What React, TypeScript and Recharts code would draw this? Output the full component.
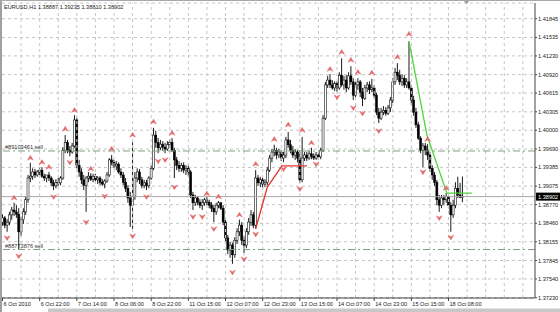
import {
  Bar,
  CartesianGrid,
  ComposedChart,
  Line,
  ReferenceLine,
  Scatter,
  XAxis,
  YAxis,
} from 'recharts';

const FONT = '"Liberation Sans", Arial, sans-serif';

// EURUSD H1, one entry per bar
const opens = [
  1.3848, 1.3855, 1.3843, 1.3848, 1.3860, 1.3868, 1.3865, 1.3861, 1.3832, 1.3852,
  1.3865, 1.3885, 1.3921, 1.3924, 1.3931, 1.3926, 1.3931, 1.3934, 1.3924, 1.3921,
  1.3926, 1.3921, 1.3913, 1.3908, 1.3914, 1.3913, 1.3921, 1.3967, 1.3980, 1.3967,
  1.3964, 1.3974, 1.4017, 1.3942, 1.3931, 1.3918, 1.3909, 1.3921, 1.3924, 1.3919,
  1.3924, 1.3918, 1.3921, 1.3914, 1.3911, 1.3916, 1.3926, 1.3951, 1.3947, 1.3941,
  1.3944, 1.3931, 1.3926, 1.3914, 1.3904, 1.3888, 1.3876, 1.3891, 1.3921, 1.3931,
  1.3918, 1.3909, 1.3913, 1.3908, 1.3921, 1.3937, 1.3992, 1.3980, 1.3971, 1.3977,
  1.3972, 1.3969, 1.3976, 1.3980, 1.3967, 1.3951, 1.3942, 1.3937, 1.3942, 1.3934,
  1.3937, 1.3931, 1.3893, 1.3880, 1.3888, 1.3881, 1.3876, 1.3880, 1.3885, 1.3881,
  1.3876, 1.3871, 1.3865, 1.3876, 1.3880, 1.3871, 1.3848, 1.3822, 1.3802, 1.3810,
  1.3794, 1.3818, 1.3832, 1.3843, 1.3818, 1.3810, 1.3832, 1.3848, 1.3860, 1.3843,
  1.3921, 1.3913, 1.3918, 1.3911, 1.3914, 1.3934, 1.3954, 1.3964, 1.3967, 1.3959,
  1.3964, 1.3954, 1.3959, 1.3984, 1.3976, 1.3967, 1.3959, 1.3964, 1.3954, 1.3918,
  1.3954, 1.3959, 1.3954, 1.3961, 1.3957, 1.3954, 1.3959, 1.3956, 1.3967, 1.4020,
  1.4075, 1.4083, 1.4075, 1.4070, 1.4077, 1.4070, 1.4091, 1.4075, 1.4083, 1.4070,
  1.4090, 1.4080, 1.4058, 1.4075, 1.4080, 1.4063, 1.4053, 1.4070, 1.4075, 1.4067,
  1.4070, 1.4058, 1.4030, 1.4020, 1.4030, 1.4033, 1.4028, 1.4037, 1.4050, 1.4080,
  1.4096, 1.4091, 1.4080, 1.4086, 1.4075, 1.4080, 1.4070, 1.4050, 1.4030, 1.4009,
  1.3987, 1.3967, 1.3974, 1.3967, 1.3959, 1.3937, 1.3926, 1.3914, 1.3885, 1.3876,
  1.3888, 1.3885, 1.3890, 1.3876, 1.3860, 1.3876, 1.3904, 1.3893, 1.38887,
];

const highs = [
  1.3861, 1.3858, 1.3853, 1.3865, 1.3873, 1.3880, 1.3876, 1.3871, 1.3857, 1.3871,
  1.3891, 1.3926, 1.3946, 1.3937, 1.3936, 1.3934, 1.3937, 1.3939, 1.3928, 1.3926,
  1.3931, 1.3924, 1.3918, 1.3919, 1.3921, 1.3924, 1.3972, 1.3992, 1.3984, 1.3974,
  1.3979, 1.4025, 1.4020, 1.3951, 1.3937, 1.3926, 1.3924, 1.3931, 1.3929, 1.3928,
  1.3928, 1.3924, 1.3924, 1.3919, 1.3919, 1.3931, 1.3954, 1.3959, 1.3951, 1.3949,
  1.3947, 1.3937, 1.3931, 1.3921, 1.3909, 1.3898, 1.3980, 1.3931, 1.3937, 1.3936,
  1.3923, 1.3918, 1.3918, 1.3924, 1.3942, 1.4004, 1.3999, 1.3987, 1.3984, 1.3982,
  1.3979, 1.3982, 1.3985, 1.3987, 1.3971, 1.3956, 1.3949, 1.3946, 1.3947, 1.3942,
  1.3942, 1.3934, 1.3898, 1.3893, 1.3891, 1.3886, 1.3886, 1.3888, 1.3890, 1.3885,
  1.3881, 1.3876, 1.3880, 1.3883, 1.3881, 1.3876, 1.3852, 1.3827, 1.3815, 1.3814,
  1.3823, 1.3838, 1.3852, 1.3848, 1.3825, 1.3838, 1.3855, 1.3868, 1.3865, 1.3934,
  1.3926, 1.3923, 1.3921, 1.3919, 1.3939, 1.3959, 1.3969, 1.3976, 1.3971, 1.3969,
  1.3967, 1.3964, 1.3989, 1.3997, 1.3984, 1.3974, 1.3969, 1.3967, 1.3967, 1.3989,
  1.3964, 1.3964, 1.3966, 1.3971, 1.3962, 1.3964, 1.3964, 1.3971, 1.4025, 1.4080,
  1.4090, 1.4093, 1.4083, 1.4081, 1.4081, 1.4096, 1.4119, 1.4090, 1.4091, 1.4096,
  1.4106, 1.4086, 1.4080, 1.4086, 1.4083, 1.4070, 1.4075, 1.4080, 1.4081, 1.4085,
  1.4075, 1.4062, 1.4037, 1.4037, 1.4040, 1.4038, 1.4042, 1.4055, 1.4086, 1.4103,
  1.4111, 1.4100, 1.4093, 1.4091, 1.4086, 1.4147, 1.4075, 1.4057, 1.4037, 1.4014,
  1.3990, 1.3979, 1.3979, 1.3977, 1.3964, 1.3942, 1.3931, 1.3918, 1.3893, 1.3893,
  1.3893, 1.3896, 1.3893, 1.3881, 1.3885, 1.3914, 1.3923, 1.3913, 1.39235,
];

const lows = [
  1.3842, 1.3838, 1.3832, 1.3843, 1.3852, 1.3858, 1.3855, 1.3802, 1.3825, 1.3845,
  1.3860, 1.3880, 1.3914, 1.3918, 1.3921, 1.3923, 1.3926, 1.3921, 1.3916, 1.3914,
  1.3916, 1.3908, 1.3901, 1.3904, 1.3908, 1.3909, 1.3918, 1.3962, 1.3962, 1.3957,
  1.3961, 1.3971, 1.3937, 1.3923, 1.3911, 1.3901, 1.3865, 1.3914, 1.3916, 1.3914,
  1.3914, 1.3911, 1.3909, 1.3908, 1.3904, 1.3913, 1.3923, 1.3942, 1.3937, 1.3934,
  1.3928, 1.3921, 1.3909, 1.3898, 1.3880, 1.3840, 1.3837, 1.3885, 1.3914, 1.3911,
  1.3904, 1.3904, 1.3901, 1.3904, 1.3918, 1.3934, 1.3971, 1.3962, 1.3967, 1.3966,
  1.3962, 1.3966, 1.3971, 1.3964, 1.3921, 1.3934, 1.3931, 1.3931, 1.3929, 1.3926,
  1.3924, 1.3888, 1.3868, 1.3875, 1.3876, 1.3871, 1.3868, 1.3875, 1.3876, 1.3871,
  1.3865, 1.3848, 1.3860, 1.3871, 1.3868, 1.3843, 1.3815, 1.3795, 1.3789, 1.3779,
  1.3789, 1.3812, 1.3825, 1.3810, 1.3797, 1.3805, 1.3827, 1.3842, 1.3838, 1.3837,
  1.3908, 1.3906, 1.3904, 1.3906, 1.3909, 1.3931, 1.3947, 1.3957, 1.3952, 1.3954,
  1.3949, 1.3947, 1.3954, 1.3971, 1.3962, 1.3954, 1.3951, 1.3947, 1.3913, 1.3914,
  1.3949, 1.3949, 1.3951, 1.3952, 1.3951, 1.3951, 1.3951, 1.3952, 1.3964, 1.4017,
  1.4070, 1.4070, 1.4067, 1.4065, 1.4063, 1.4067, 1.4072, 1.4067, 1.4063, 1.4067,
  1.4075, 1.4050, 1.4053, 1.4067, 1.4055, 1.4040, 1.4050, 1.4063, 1.4060, 1.4063,
  1.4053, 1.4025, 1.4012, 1.4017, 1.4025, 1.4024, 1.4025, 1.4030, 1.4045, 1.4075,
  1.4083, 1.4075, 1.4073, 1.4070, 1.4070, 1.4067, 1.4042, 1.4024, 1.4004, 1.3984,
  1.3962, 1.3939, 1.3959, 1.3951, 1.3931, 1.3918, 1.3908, 1.3876, 1.3865, 1.3871,
  1.3876, 1.3880, 1.3871, 1.3832, 1.3855, 1.3871, 1.3888, 1.3888, 1.38810,
];

const closes = [
  1.3855, 1.3843, 1.3848, 1.3860, 1.3868, 1.3865, 1.3861, 1.3832, 1.3852, 1.3865,
  1.3885, 1.3921, 1.3924, 1.3931, 1.3926, 1.3931, 1.3934, 1.3924, 1.3921, 1.3926,
  1.3921, 1.3913, 1.3908, 1.3914, 1.3913, 1.3921, 1.3967, 1.3980, 1.3967, 1.3964,
  1.3974, 1.4017, 1.3942, 1.3931, 1.3918, 1.3909, 1.3921, 1.3924, 1.3919, 1.3924,
  1.3918, 1.3921, 1.3914, 1.3911, 1.3916, 1.3926, 1.3951, 1.3947, 1.3941, 1.3944,
  1.3931, 1.3926, 1.3914, 1.3904, 1.3888, 1.3876, 1.3891, 1.3921, 1.3931, 1.3918,
  1.3909, 1.3913, 1.3908, 1.3921, 1.3937, 1.3992, 1.3980, 1.3971, 1.3977, 1.3972,
  1.3969, 1.3976, 1.3980, 1.3967, 1.3951, 1.3942, 1.3937, 1.3942, 1.3934, 1.3937,
  1.3931, 1.3893, 1.3880, 1.3888, 1.3881, 1.3876, 1.3880, 1.3885, 1.3881, 1.3876,
  1.3871, 1.3865, 1.3876, 1.3880, 1.3871, 1.3848, 1.3822, 1.3802, 1.3810, 1.3794,
  1.3818, 1.3832, 1.3843, 1.3818, 1.3810, 1.3832, 1.3848, 1.3860, 1.3843, 1.3921,
  1.3913, 1.3918, 1.3911, 1.3914, 1.3934, 1.3954, 1.3964, 1.3967, 1.3959, 1.3964,
  1.3954, 1.3959, 1.3984, 1.3976, 1.3967, 1.3959, 1.3964, 1.3954, 1.3918, 1.3954,
  1.3959, 1.3954, 1.3961, 1.3957, 1.3954, 1.3959, 1.3956, 1.3967, 1.4020, 1.4075,
  1.4083, 1.4075, 1.4070, 1.4077, 1.4070, 1.4091, 1.4075, 1.4083, 1.4070, 1.4090,
  1.4080, 1.4058, 1.4075, 1.4080, 1.4063, 1.4053, 1.4070, 1.4075, 1.4067, 1.4070,
  1.4058, 1.4030, 1.4020, 1.4030, 1.4033, 1.4028, 1.4037, 1.4050, 1.4080, 1.4096,
  1.4091, 1.4080, 1.4086, 1.4075, 1.4080, 1.4070, 1.4050, 1.4030, 1.4009, 1.3987,
  1.3967, 1.3974, 1.3967, 1.3959, 1.3937, 1.3926, 1.3914, 1.3885, 1.3876, 1.3888,
  1.3885, 1.3890, 1.3876, 1.3860, 1.3876, 1.3904, 1.3893, 1.3889, 1.38902,
];

// fractal markers: bar index and the price where the arrow sits
const fracUpIdx = [5, 12, 17, 20, 27, 31, 38, 47, 56, 65, 73, 88, 93, 102, 109, 117, 123, 129, 133, 141, 146, 150, 153, 159, 170, 175, 183, 191];
const fracUpPrice = [1.3888, 1.3954, 1.3947, 1.3939, 1.4002, 1.4033, 1.3936, 1.3969, 1.3992, 1.4014, 1.3995, 1.3895, 1.389, 1.386, 1.3944, 1.3985, 1.4009, 1.4, 1.3979, 1.4101, 1.4129, 1.4116, 1.4096, 1.4095, 1.4121, 1.4159, 1.3985, 1.3904];
const fracDownIdx = [2, 7, 22, 29, 36, 44, 56, 62, 67, 70, 74, 82, 86, 91, 99, 104, 109, 121, 128, 135, 144, 151, 155, 162, 181, 188, 193];
const fracDownPrice = [1.3822, 1.3792, 1.389, 1.3947, 1.3848, 1.3891, 1.3825, 1.389, 1.3949, 1.3951, 1.3906, 1.3857, 1.3857, 1.3837, 1.3765, 1.3787, 1.3828, 1.3936, 1.3903, 1.3944, 1.4055, 1.4037, 1.4028, 1.3999, 1.3931, 1.3855, 1.3823];

// drawn trend lines
const redLineIdx = [109, 114, 120.3, 131];
const redLinePrice = [1.3837, 1.3906, 1.3941, 1.3941];
const greenLineIdx = [175, 182.7, 191.3, 202];
const greenLinePrice = [1.4147, 1.3992, 1.3896, 1.3896];

// open orders
const orderPrices = [1.39657, 1.38027];
const orderLabels = ['#89103461 sell', '#88773876 sell'];

const priceTicks = [
  1.3723, 1.3754, 1.37845, 1.38155, 1.3846, 1.3877, 1.39075, 1.39385,
  1.3969, 1.4, 1.40305, 1.40615, 1.4092, 1.4123, 1.41535, 1.41845,
];
const timeTicks = [0, 16, 32, 48, 64, 80, 96, 112, 128, 144, 160, 176, 192];
const timeLabels = [
  '6 Oct 2010', '6 Oct 22:00', '7 Oct 14:00', '8 Oct 06:00', '8 Oct 22:00',
  '11 Oct 15:00', '12 Oct 07:00', '12 Oct 23:00', '13 Oct 15:00', '14 Oct 07:00',
  '14 Oct 23:00', '15 Oct 15:00', '18 Oct 08:00',
];
const gridBars = [8, 16, 24, 32, 40, 48, 56, 64, 72, 80, 88, 96, 104, 112, 120, 128, 136, 144, 152, 160, 168, 176, 184, 192, 200, 208, 216, 224];

const candles = opens.map((o, i) => ({
  i,
  o,
  h: highs[i],
  l: lows[i],
  c: closes[i],
  range: [lows[i], highs[i]],
}));
const upMarks = fracUpIdx.map((i, k) => ({ i, p: fracUpPrice[k] }));
const downMarks = fracDownIdx.map((i, k) => ({ i, p: fracDownPrice[k] }));
const redLine = redLineIdx.map((i, k) => ({ i, p: redLinePrice[k] }));
const greenLine = greenLineIdx.map((i, k) => ({ i, p: greenLinePrice[k] }));

const last = candles[candles.length - 1];
const title = `EURUSD,H1  ${last.o.toFixed(5)} ${last.h.toFixed(5)} ${last.l.toFixed(5)} ${last.c.toFixed(5)}`;

function Candle(props: any) {
  const { x, y, width, height, payload } = props;
  if (payload == null || x == null) return null;
  const top = Math.min(y, y + height);
  const span = Math.abs(height);
  const { o, h, l, c } = payload;
  const toY = (p: number) => (h === l ? top : top + ((h - p) / (h - l)) * span);
  const cx = x + width / 2;
  const yo = toY(o);
  const yc = toY(c);
  const bodyTop = Math.min(yo, yc);
  const bodyH = Math.max(Math.abs(yo - yc), 0.8);
  const bull = c >= o;
  return (
    <g>
      <line x1={cx} x2={cx} y1={top} y2={top + span} stroke="#000" strokeWidth={0.9} />
      <rect
        x={cx - 1}
        y={bodyTop}
        width={2}
        height={bodyH}
        fill={bull ? '#fff' : '#000'}
        stroke="#000"
        strokeWidth={0.55}
      />
    </g>
  );
}

function UpArrow(props: any) {
  const { cx, cy } = props;
  if (cx == null) return null;
  return (
    <path
      d={`M${cx} ${cy - 2.7} L${cx + 2.9} ${cy + 2.1} L${cx} ${cy + 0.6} L${cx - 2.9} ${cy + 2.1} Z`}
      fill="#e26a6a"
      stroke="#e26a6a"
      strokeWidth={0.5}
    />
  );
}

function DownArrow(props: any) {
  const { cx, cy } = props;
  if (cx == null) return null;
  return (
    <path
      d={`M${cx} ${cy + 2.7} L${cx + 2.9} ${cy - 2.1} L${cx} ${cy - 0.6} L${cx - 2.9} ${cy - 2.1} Z`}
      fill="#e26a6a"
      stroke="#e26a6a"
      strokeWidth={0.5}
    />
  );
}

function PriceTick(props: any) {
  const { x, y, payload } = props;
  return (
    <text x={x} y={y} dy={2} fontSize={5.6} fill="#222" fontFamily={FONT} textAnchor="start">
      {Number(payload.value).toFixed(5)}
    </text>
  );
}

function TimeTick(props: any) {
  const { x, y, payload } = props;
  const idx = timeTicks.indexOf(payload.value);
  return (
    <text x={x + 1} y={y} dy={5} fontSize={5.6} fill="#222" fontFamily={FONT} textAnchor="start">
      {timeLabels[idx]}
    </text>
  );
}

function OrderLabel(props: any) {
  const vb = props.viewBox || {};
  return (
    <text x={(vb.x ?? 0) + 3} y={(vb.y ?? 0) - 1.5} fontSize={5.6} fill="#333" fontFamily={FONT}>
      {props.text}
    </text>
  );
}

function BidTag(props: any) {
  const vb = props.viewBox || {};
  const x = (vb.x ?? 0) + (vb.width ?? 0);
  const y = vb.y ?? 0;
  return (
    <g>
      <rect x={x + 1} y={y - 4} width={24} height={8} fill="#000" />
      <text x={x + 3} y={y + 2} fontSize={5.6} fill="#fff" fontFamily={FONT}>
        {last.c.toFixed(5)}
      </text>
    </g>
  );
}

export default function App() {
  return (
    <div style={{ position: 'relative', width: 560, height: 312, background: '#fff' }}>
      <style>{'body{margin:0}'}</style>
      <ComposedChart
        width={560}
        height={312}
        data={candles}
        margin={{ top: 3, right: 0, bottom: 0, left: 2 }}
      >
        <CartesianGrid vertical={false} stroke="#c6c6c6" strokeDasharray="3 3" />
        {gridBars.map((g) => (
          <ReferenceLine key={g} x={g} stroke="#c6c6c6" strokeDasharray="3 3" />
        ))}
        <XAxis
          type="number"
          dataKey="i"
          domain={[-0.215, 229.23]}
          allowDataOverflow
          ticks={timeTicks}
          interval={0}
          height={14}
          tickSize={3}
          tickMargin={0}
          tickLine={{ stroke: '#444' }}
          axisLine={{ stroke: '#444' }}
          tick={<TimeTick />}
        />
        <YAxis
          orientation="right"
          type="number"
          domain={[1.37225, 1.42105]}
          allowDataOverflow
          ticks={priceTicks}
          interval={0}
          width={25}
          tickSize={2}
          tickMargin={1}
          tickLine={{ stroke: '#444' }}
          axisLine={{ stroke: '#444' }}
          tick={<PriceTick />}
        />
        {orderPrices.map((p, k) => (
          <ReferenceLine
            key={p}
            y={p}
            stroke="#7f9f7f"
            strokeDasharray="7 3 2 3"
            label={<OrderLabel text={orderLabels[k]} />}
          />
        ))}
        <ReferenceLine y={last.c} stroke="#a8a8a8" label={<BidTag />} />
        <Bar dataKey="range" barSize={2} shape={<Candle />} isAnimationActive={false} />
        <Line
          data={redLine}
          dataKey="p"
          type="linear"
          stroke="#e3342a"
          strokeWidth={1.3}
          dot={false}
          isAnimationActive={false}
        />
        <Line
          data={greenLine}
          dataKey="p"
          type="linear"
          stroke="#4fd43a"
          strokeWidth={1.3}
          dot={false}
          isAnimationActive={false}
        />
        <Scatter data={upMarks} dataKey="p" shape={<UpArrow />} isAnimationActive={false} />
        <Scatter data={downMarks} dataKey="p" shape={<DownArrow />} isAnimationActive={false} />
      </ComposedChart>
      <svg
        width={560}
        height={312}
        style={{ position: 'absolute', left: 0, top: 0, pointerEvents: 'none' }}
      >
        <rect x={0} y={0} width={2} height={312} fill="#a0a0a0" />
        <rect x={0} y={0} width={560} height={1} fill="#a8a8a8" />
        <path d="M464 1 L469 1 L466.5 4 Z" fill="#999" />
        <rect x={48} y={308.5} width={512} height={3.5} fill="#c8c8c8" />
        <text x={4} y={8.5} fontSize={5.6} fill="#222" fontFamily={FONT}>
          {title}
        </text>
      </svg>
    </div>
  );
}
